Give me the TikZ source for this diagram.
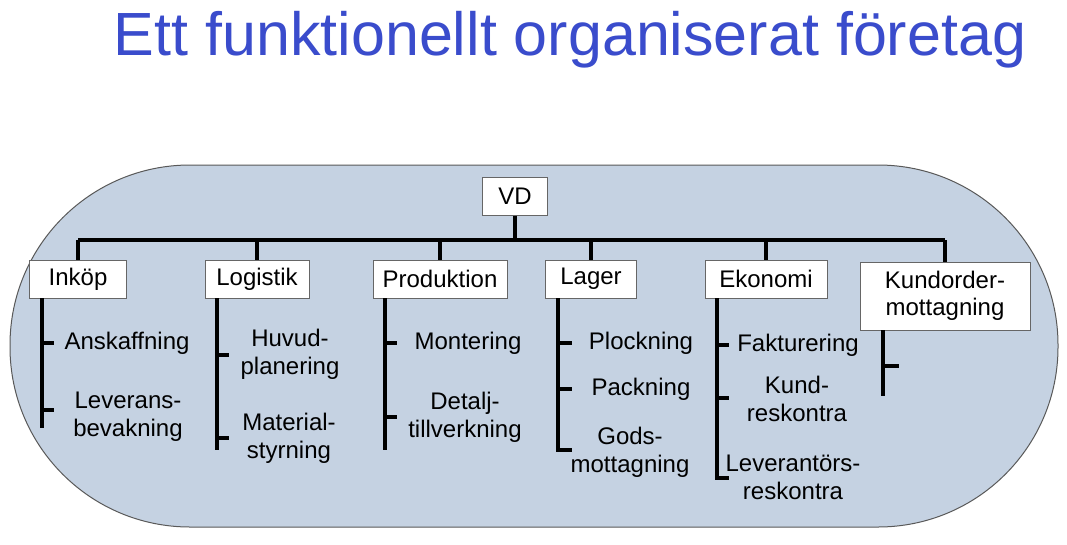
\documentclass[tikz,border=0pt]{standalone}
\usepackage{fontspec}
\setmainfont{Liberation Sans}
\begin{document}
\begin{tikzpicture}[x=1pt,y=-1pt,
 box/.style={draw=black!60,fill=white,line width=1pt,font=\fontsize{24}{27}\selectfont,minimum height=38pt,inner xsep=3pt,align=center},
 lab/.style={font=\fontsize{24}{28}\selectfont,align=center},
 ln/.style={line width=3.4pt}]
\useasboundingbox (0,0) rectangle (1067,544);
\fill[white] (0,0) rectangle (1067,544);
\node[text={rgb,255:red,58;green,76;blue,204},font=\fontsize{61}{66}\selectfont] (t) at (570,40) {Ett funktionellt organiserat företag};
\draw[draw=black!65,fill={rgb,255:red,197;green,210;blue,226},line width=1pt,rounded corners=180pt] (10,165) rectangle (1058,527);
\node[box,minimum width=65pt] (vd) at (515,196) {VD};
\node[box,minimum width=97pt] (a) at (78,279) {Inköp};
\node[box,minimum width=104pt] (b) at (257,279) {Logistik};
\node[box,minimum width=134pt] (c) at (440,279) {Produktion};
\node[box,minimum width=91pt] (d) at (591,279) {Lager};
\node[box,minimum width=122pt] (e) at (766,279) {Ekonomi};
\node[box,minimum height=68pt,minimum width=170pt] (f) at (945,296) {Kundorder-\\mottagning};
\coordinate (h) at (515,240);
\draw[ln] (vd.south) -- (h);
\draw[ln] (78,240) -- (945,240);
\foreach \n/\x in {a/78,b/257,c/440,d/591,e/766,f/945} \draw[ln] (\x,240) -- (\n.north);
\draw[ln] (42,298) -- (42,428);
\draw[ln] (42,343) -- (54,343); \draw[ln] (42,410) -- (54,410);
\node[lab] (a1) at (127,343) {Anskaffning};
\node[lab] (a2) at (128,417) {Leverans-\\bevakning};
\draw[ln] (217,298) -- (217,450);
\draw[ln] (217,355) -- (229,355); \draw[ln] (217,438) -- (229,438);
\node[lab] (b1) at (290,354) {Huvud-\\planering};
\node[lab] (b2) at (289,438) {Material-\\styrning};
\draw[ln] (385,298) -- (385,450);
\draw[ln] (385,343) -- (397,343); \draw[ln] (385,417) -- (397,417);
\node[lab] (c1) at (468,343) {Montering};
\node[lab] (c2) at (465,417) {Detalj-\\tillverkning};
\draw[ln] (558,298) -- (558,452);
\draw[ln] (558,343) -- (572,343); \draw[ln] (558,389) -- (572,389); \draw[ln] (558,450) -- (572,450);
\node[lab] (d1) at (641,343) {Plockning};
\node[lab] (d2) at (641,389) {Packning};
\node[lab] (d3) at (630,452) {Gods-\\mottagning};
\draw[ln] (717,298) -- (717,480);
\draw[ln] (717,345) -- (729,345); \draw[ln] (717,398) -- (729,398); \draw[ln] (717,478) -- (729,478);
\node[lab] (e1) at (798,345) {Fakturering};
\node[lab] (e2) at (797,399) {Kund-\\reskontra};
\node[lab] (e3) at (793,477) {Leverantörs-\\reskontra};
\draw[ln] (883,330) -- (883,396);
\draw[ln] (883,366) -- (899,366);
\end{tikzpicture}
\end{document}
